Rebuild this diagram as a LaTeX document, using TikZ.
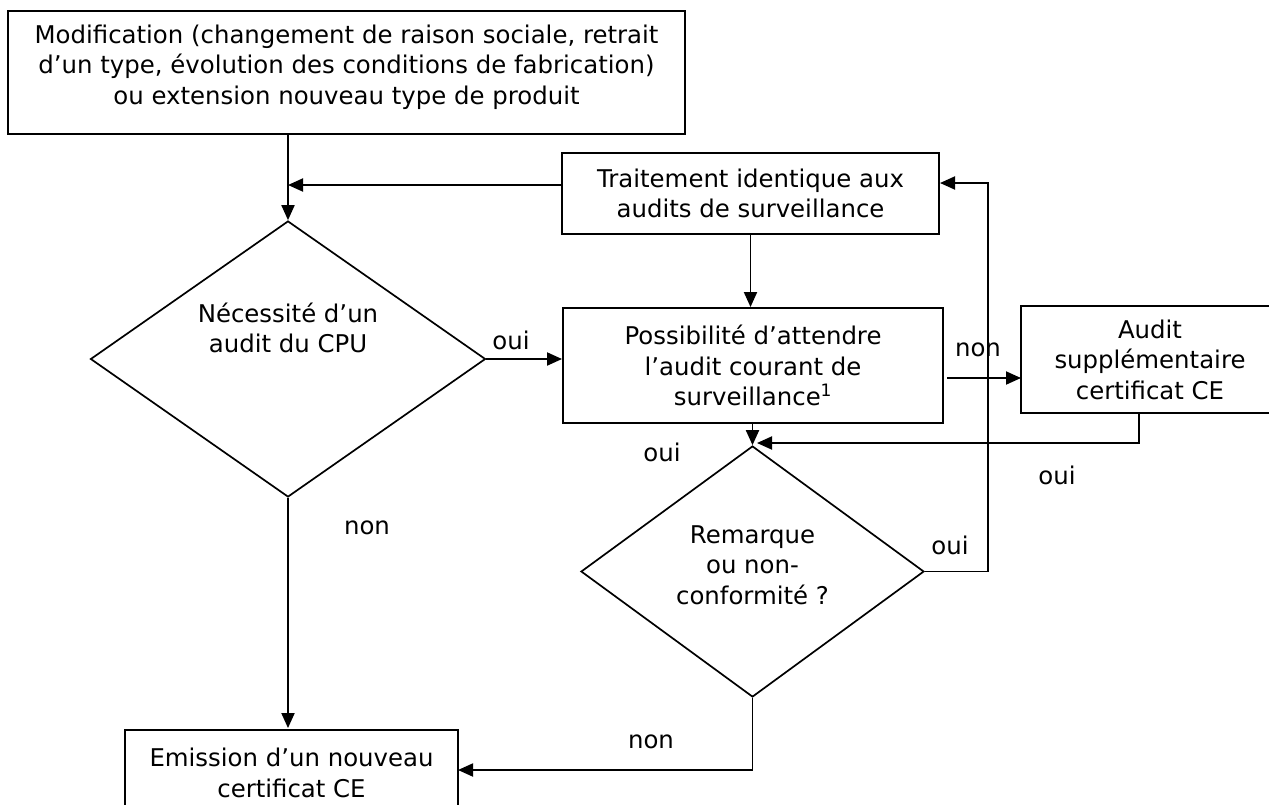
\documentclass[tikz,border=0pt]{standalone}
\usepackage{fontspec}
\setmainfont{DejaVu Sans}
\usetikzlibrary{shapes.geometric,arrows.meta,calc}
\begin{document}
\begin{tikzpicture}[x=1pt,y=-1pt,
  every node/.style={font=\fontsize{24.4}{30.5}\selectfont, inner sep=0pt},
  box/.style={draw, line width=1.9pt, align=center},
  dia/.style={draw, diamond, line width=1.7pt},
  lab/.style={align=center},
  conn/.style={line width=1.9pt},
  arr/.style={conn, -{Triangle[length=15pt,width=13pt]}}]
\useasboundingbox (0,0) rectangle (1269,804);
% boxes
\node[box, minimum width=677, minimum height=123] (top) at (346.5,72.5) {};
\node[lab] (toptxt) at (346.5,67) {Modification (changement de raison sociale, retrait\\d’un type, évolution des conditions de fabrication)\\ou extension nouveau type de produit};
\node[box, minimum width=377, minimum height=81] (tr) at (750.5,193.5) {Traitement identique aux\\audits de surveillance};
\node[box, minimum width=380, minimum height=115] (pos) at (753,365.5) {Possibilité d’attendre\\l’audit courant de\\surveillance\textsuperscript{1}};
\node[box, minimum width=258, minimum height=107] (aud) at (1150,359.5) {Audit\\supplémentaire\\certificat CE};
\node[box, minimum width=333, minimum height=86] (em) at (291.5,773) {Emission d’un nouveau\\certificat CE};
% diamonds
\node[dia, minimum width=395, minimum height=276] (d1) at (288,359) {};
\node[lab] (d1txt) at (288,328) {Nécessité d’un\\audit du CPU};
\node[dia, minimum width=343, minimum height=251] (d2) at (752.5,571.5) {};
\node[lab] (d2txt) at (752.5,565) {Remarque\\ou non-\\conformité ?};
% helper coordinates
\coordinate (j1) at (288,185);
\coordinate (trw) at (562,185);
\coordinate (tre) at (940,183);
\coordinate (loopx) at (988,571.5);
\coordinate (loopt) at (988,183);
\coordinate (nonA) at (947,378);
\coordinate (audw) at (1021,378);
\coordinate (audb) at (1139,413);
\coordinate (audc) at (1139,443);
\coordinate (d2in) at (757,443);
\coordinate (emr) at (458,770);
\coordinate (d2b) at (d2.south |- emr);
% connectors
\draw[arr] (top.south -| j1) -- (d1.north);
\draw[arr] (trw) -- (j1);
\draw[arr] (tr.south) -- (tr.south |- pos.north);
\draw[arr] (d1.east) -- (d1.east -| pos.west);
\draw[arr] (nonA) -- (audw);
\draw[arr] (pos.south -| d2.north) -- (d2.north);
\draw[arr] (audb) -- (audc) -- (d2in);
\draw[arr] (d2.east) -- (loopx) -- (loopt) -- (tre);
\draw[arr] (d2.south) -- (d2b) -- (emr);
\draw[arr] (d1.south) -- ($(d1.south |- em.north)+(0,-1)$);
% labels
\node (l1) at (511,340) {oui};
\node (l2) at (367,528) {non};
\node (l3) at (978,350) {non};
\node (l4) at (662,452) {oui};
\node (l5) at (1057,475) {oui};
\node (l6) at (950,545) {oui};
\node (l7) at (651,742) {non};
\end{tikzpicture}
\end{document}
